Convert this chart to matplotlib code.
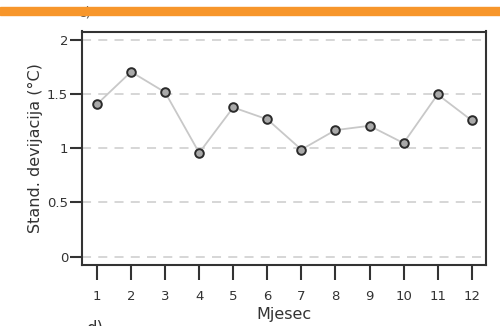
import matplotlib
matplotlib.use("Agg")
import matplotlib.pyplot as plt
from matplotlib.patches import Rectangle

months = [1, 2, 3, 4, 5, 6, 7, 8, 9, 10, 11, 12]
std_dev = [1.41, 1.71, 1.52, 0.96, 1.38, 1.27, 0.99, 1.17, 1.21, 1.05, 1.50, 1.26]
yticks = [0, 0.5, 1, 1.5, 2]
ytick_labels = ["0", "0.5", "1", "1.5", "2"]

W, H = 500, 326
fig = plt.figure(figsize=(W / 100, H / 100), dpi=100)
ax = fig.add_axes([82 / W, 1 - 264.5 / H, (486 - 82) / W, (264.5 - 31.5) / H])

for y in yticks:
    ax.axhline(y, color="#d3d3d3", lw=1.3, ls=(0, (5, 4)), zorder=1)

ax.plot(months, std_dev, color="#c8c8c8", lw=1.3, zorder=2)
ax.plot(months, std_dev, ls="none", marker="o", ms=6.2, mfc="#a9a9a9",
        mec="#2a2a2a", mew=1.4, zorder=3)

ax.set_xlim(0.56, 12.42)
ax.set_ylim(-0.074, 2.083)
ax.set_xticks(months)
ax.set_xticklabels([str(m) for m in months])
ax.set_yticks(yticks)
ax.set_yticklabels(ytick_labels)

for s in ax.spines.values():
    s.set_color("#333333")
    s.set_linewidth(1.5)

ax.tick_params(axis="x", length=10.5, width=1.5, color="#333333", pad=8,
               labelsize=9.5, labelcolor="#333333")
ax.tick_params(axis="y", length=9, width=1.5, color="#333333", pad=1,
               labelsize=9.5, labelcolor="#333333")

ax.set_xlabel("Mjesec", fontsize=11.5, color="#333333", labelpad=3)
ax.set_ylabel("Stand. devijacija (°C)", fontsize=11.5, color="#333333", labelpad=3)

# orange banner at top and panel labels partially visible
fig.patches.append(Rectangle((0, 1 - 15 / H), 1, 8 / H, transform=fig.transFigure,
                             color="#F7962B", zorder=10))
fig.text(78 / W, 1 - 17 / H, "c)", fontsize=10, color="#555555", zorder=5)
fig.text(86 / W, 1 - 334 / H, "d)", fontsize=12, color="#333333")

fig.savefig("out.png", dpi=100)
